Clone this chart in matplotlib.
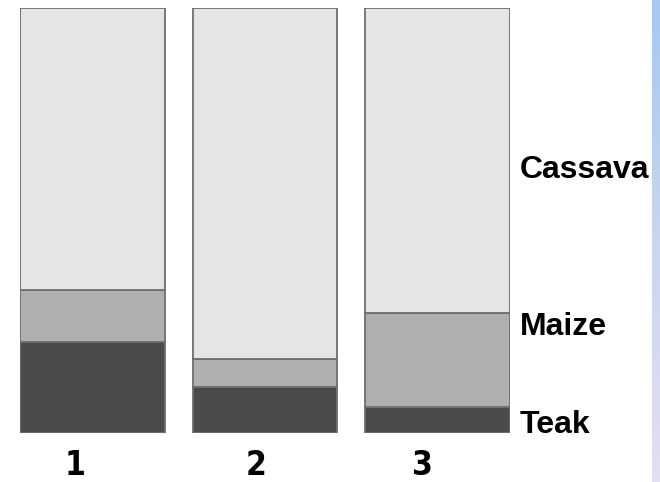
import numpy as np
import matplotlib
matplotlib.use('Agg')
import matplotlib.pyplot as plt
from matplotlib.colors import LinearSegmentedColormap


# share of each crop (%) per plot
plots = ['1', '2', '3']
teak = [21.4, 10.8, 6.1]
maize = [12.2, 6.4, 22.0]
cassava = [66.4, 82.8, 71.9]
crop_names = ['Cassava', 'Maize', 'Teak']
label_y = [61.8, 24.9, 1.8]

colors = {'Teak': '#4b4b4b', 'Maize': '#afafaf', 'Cassava': '#e5e5e5'}
edge = '#6e6e6e'
# plot numbers are not centred under the bars in the original
num_shift = [-0.1, -0.05, -0.09]


def main():
    fig = plt.figure(figsize=(6.6, 4.82), dpi=100)
    ax = fig.add_axes([20 / 660, 49.5 / 482, 490 / 660, 424.5 / 482])

    x = np.arange(len(plots))
    width = 0.84
    bottom = np.zeros(len(plots))
    for name, vals in [('Teak', teak), ('Maize', maize), ('Cassava', cassava)]:
        ax.bar(x, vals, width=width, bottom=bottom, color=colors[name],
               edgecolor=edge, linewidth=1.3)
        bottom += np.array(vals)

    ax.set_xlim(-width / 2, len(plots) - 1 + width / 2)
    ax.set_ylim(0, 100)
    for s in ax.spines.values():
        s.set_visible(False)
    ax.set_yticks([])
    ax.set_xticks([])

    for xi, lab, dx in zip(x, plots, num_shift):
        ax.text(xi + dx, -7.7, lab, ha='center', va='center',
                fontsize=24, fontweight='bold', fontstretch='condensed',
                color='black', clip_on=False)

    for name, yv in zip(crop_names, label_y):
        ax.text(1.02, yv / 100, name, transform=ax.transAxes, ha='left',
                va='center', fontsize=23, fontweight='bold',
                family='Liberation Sans', color='black', clip_on=False)

    # blue gradient strip at the right edge
    strip = fig.add_axes([652 / 660, 0, 8 / 660, 1])
    cmap = LinearSegmentedColormap.from_list('strip', ['#a6c8f2', '#c9d6ef', '#e4dff3'])
    grad = np.linspace(0, 1, 256).reshape(-1, 1)
    strip.imshow(grad, aspect='auto', cmap=cmap)
    strip.axis('off')

    fig.savefig('out.png', dpi=100)
    plt.close(fig)


if __name__ == '__main__':
    main()
